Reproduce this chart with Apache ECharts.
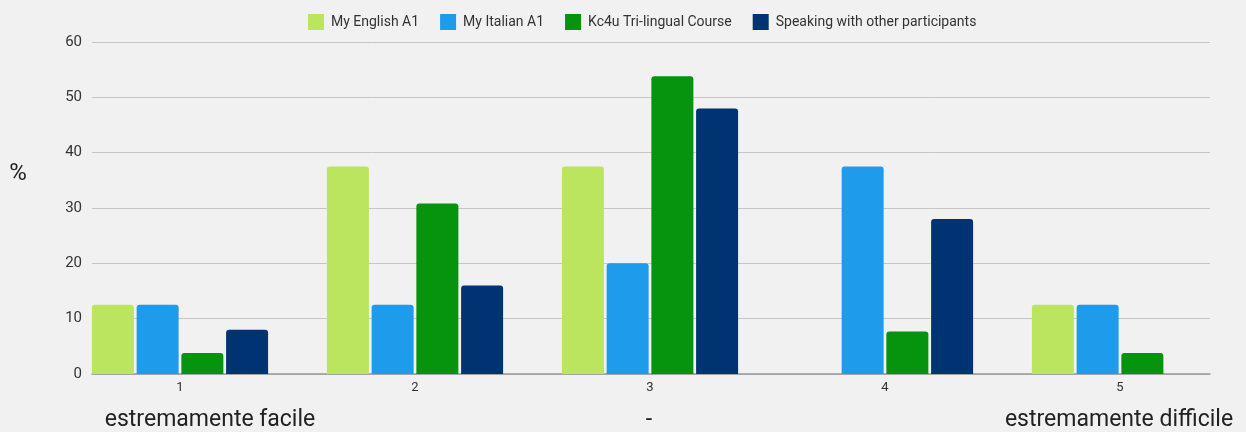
<!DOCTYPE html>
<html>
<head>
<meta charset="utf-8">
<script src="https://cdn.jsdelivr.net/npm/echarts@6/dist/echarts.min.js"></script>
<style>
html,body{margin:0;padding:0;background:#f1f1f1;}
#chart{width:1246px;height:432px;}
</style>
</head>
<body>
<div id="chart"></div>
<script>
const categories = ['1', '2', '3', '4', '5'];
const seriesNames = ['My English A1', 'My Italian A1', 'Kc4u Tri-lingual Course', 'Speaking with other participants'];
const englishA1 = [12.5, 37.5, 37.5, 0, 12.5];
const italianA1 = [12.5, 12.5, 20, 37.5, 12.5];
const kc4uCourse = [3.8, 30.8, 53.8, 7.7, 3.8];
const speakingOthers = [8, 16, 48, 28, 0];
const yTicks = [0, 10, 20, 30, 40, 50, 60];
const scaleLabels = ['estremamente facile', '-', 'estremamente difficile'];

const colors = ['#bce55f', '#1e9bea', '#06930e', '#003372'];
const font = 'Roboto, "Noto Sans", sans-serif';
const seriesData = [englishA1, italianA1, kc4uCourse, speakingOthers];

const chart = echarts.init(document.getElementById('chart'));
chart.setOption({
  backgroundColor: '#f1f1f1',
  animation: false,
  textStyle: { fontFamily: font },
  legend: {
    top: 9, left: 303,
    itemWidth: 16, itemHeight: 16, itemGap: 21,
    icon: 'rect',
    textStyle: { fontSize: 14, color: '#333', fontFamily: font, padding: [0, 0, 0, 2] },
    data: seriesNames
  },
  grid: [
    { left: 62.5, right: 8.5, top: 42, height: 332 },
    { left: 92, right: 36, top: 42, height: 332 }
  ],
  xAxis: [
    {
      type: 'category', gridIndex: 0, data: categories,
      axisLine: { show: false }, axisTick: { show: false },
      axisLabel: { color: '#333', fontSize: 13, margin: 7, fontFamily: font }
    },
    {
      type: 'value', gridIndex: 1, min: 0, max: 1,
      axisLine: { show: true, lineStyle: { color: '#999', width: 1.5 } },
      axisTick: { show: false }, axisLabel: { show: false }, splitLine: { show: false }
    }
  ],
  yAxis: [
    {
      type: 'value', gridIndex: 0, min: yTicks[0], max: yTicks[yTicks.length - 1], interval: 10,
      axisLine: { show: false }, axisTick: { show: false }, axisLabel: { show: false }, splitLine: { show: false }
    },
    {
      type: 'value', gridIndex: 1, min: yTicks[0], max: yTicks[yTicks.length - 1], interval: 10,
      axisLine: { show: false }, axisTick: { show: false },
      axisLabel: { color: '#333', fontSize: 15, margin: 10, fontFamily: font },
      splitLine: { show: true, lineStyle: { color: '#c6c6c6', width: 1 } }
    }
  ],
  series: seriesNames.map((name, i) => ({
    name: name,
    type: 'bar',
    xAxisIndex: 0, yAxisIndex: 0,
    data: seriesData[i],
    barWidth: 42,
    barGap: '6.5%',
    itemStyle: { color: colors[i], borderRadius: [3, 3, 0, 0] },
    z: 3
  })),
  graphic: [
    { type: 'text', x: 18, y: 174, style: { text: '%', fontSize: 24, fill: '#222', fontFamily: font, align: 'center', verticalAlign: 'middle' } },
    { type: 'text', x: 210, y: 420, style: { text: scaleLabels[0], fontSize: 23, fill: '#222', fontFamily: font, align: 'center', verticalAlign: 'middle' } },
    { type: 'text', x: 649, y: 420, style: { text: scaleLabels[1], fontSize: 23, fill: '#222', fontFamily: font, align: 'center', verticalAlign: 'middle' } },
    { type: 'text', x: 1119, y: 420, style: { text: scaleLabels[2], fontSize: 23, fill: '#222', fontFamily: font, align: 'center', verticalAlign: 'middle' } }
  ]
});
</script>
</body>
</html>
